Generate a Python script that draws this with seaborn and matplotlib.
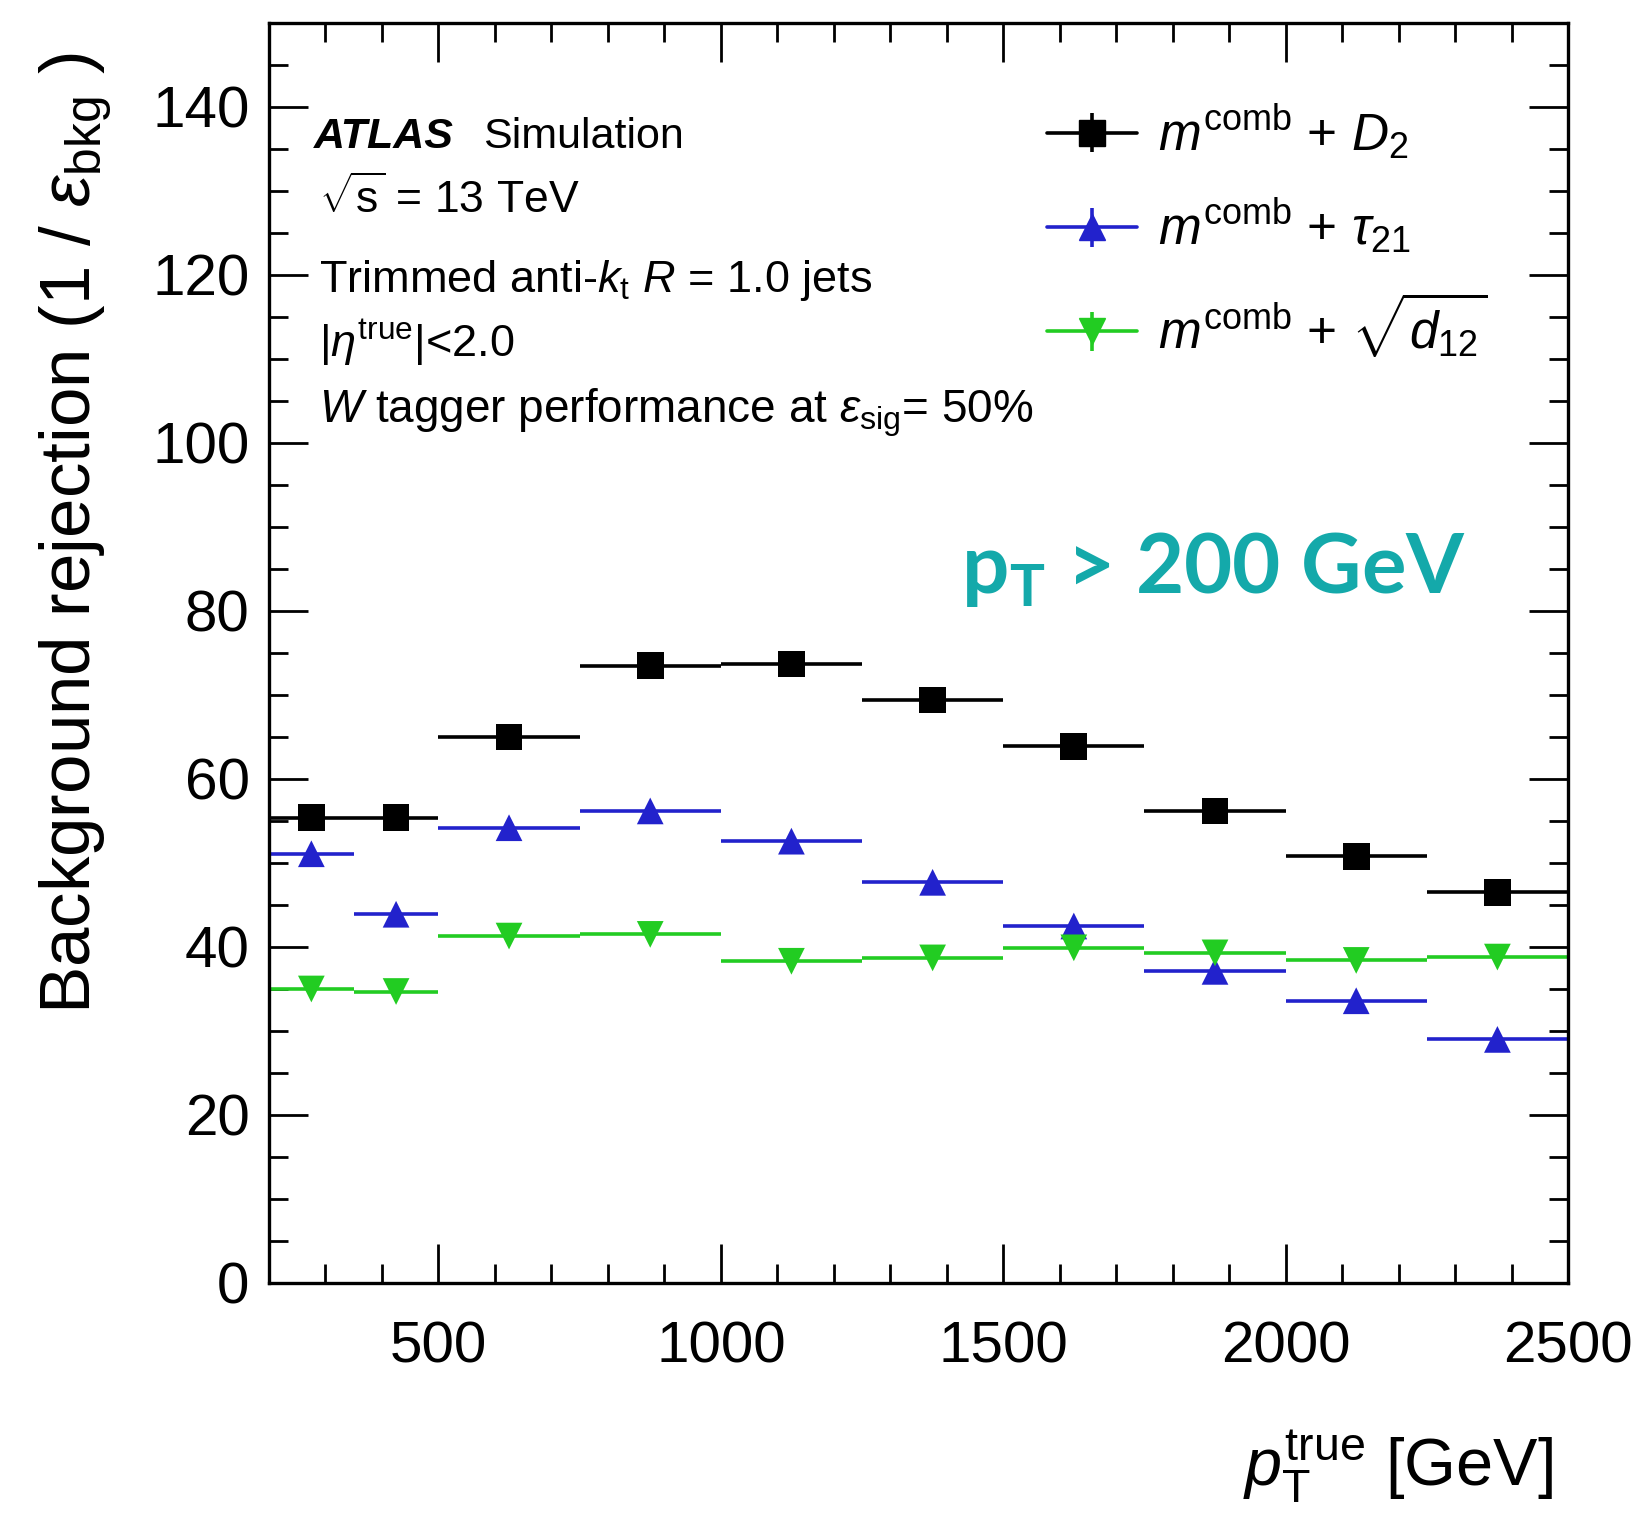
import numpy as np
import pandas as pd
import matplotlib
matplotlib.use("Agg")
import matplotlib.pyplot as plt
import seaborn as sns
from matplotlib.ticker import MultipleLocator
from matplotlib.legend_handler import HandlerErrorbar

# ---------------- data ----------------
bin_edges = [200, 350, 500, 750, 1000, 1250, 1500, 1750, 2000, 2250, 2500]
rej_D2 = [55.4, 55.4, 65.0, 73.5, 73.7, 69.4, 63.9, 56.2, 50.8, 46.5]
rej_tau21 = [51.1, 43.9, 54.2, 56.2, 52.6, 47.7, 42.5, 37.1, 33.6, 29.0]
rej_d12 = [35.0, 34.7, 41.3, 41.5, 38.3, 38.7, 39.9, 39.3, 38.4, 38.8]
series_names = ["D2", "tau21", "d12"]
series_labels = [r"$m^{\rm comb}$ + $D_2$",
                 r"$m^{\rm comb}$ + $\tau_{21}$",
                 r"$m^{\rm comb}$ + $\sqrt{d_{12}}$"]
x_ticks = [500, 1000, 1500, 2000, 2500]
y_ticks = [0, 20, 40, 60, 80, 100, 120, 140]

colors = {"D2": "#000000", "tau21": "#2222cc", "d12": "#22cc22"}
markers = {"D2": "s", "tau21": "^", "d12": "v"}

edges = np.array(bin_edges, dtype=float)
centers = 0.5 * (edges[:-1] + edges[1:])
halfw = 0.5 * (edges[1:] - edges[:-1])
vals = {"D2": rej_D2, "tau21": rej_tau21, "d12": rej_d12}
df = pd.concat([pd.DataFrame({"pt": centers, "rej": vals[n], "tagger": n}) for n in series_names],
               ignore_index=True)

# ---------------- style ----------------
sns.set_theme(style="ticks")
plt.rcParams["font.family"] = ["Liberation Sans", "DejaVu Sans"]
plt.rcParams["mathtext.fontset"] = "custom"
plt.rcParams["mathtext.rm"] = "Liberation Sans"
plt.rcParams["mathtext.it"] = "Liberation Sans:italic"
plt.rcParams["mathtext.bf"] = "Lato:bold"
plt.rcParams["text.color"] = "black"
plt.rcParams["axes.labelcolor"] = "black"
plt.rcParams["xtick.color"] = "black"
plt.rcParams["ytick.color"] = "black"

fig = plt.figure(figsize=(16.34, 15.16), dpi=100)
ax = fig.add_axes([269 / 1634, 1 - 1283 / 1516, 1299 / 1634, 1260 / 1516])

# horizontal bin-width bars
for n in ["d12", "tau21", "D2"]:
    ax.errorbar(centers, vals[n], xerr=halfw, fmt="none", ecolor=colors[n],
                elinewidth=2.6, zorder=2)

# markers via seaborn
sns.scatterplot(data=df, x="pt", y="rej", hue="tagger", style="tagger",
                palette=colors, markers=markers, hue_order=["d12", "tau21", "D2"],
                style_order=["d12", "tau21", "D2"],
                s=370, linewidth=0, legend=False, ax=ax, zorder=3)

# legend handles
handles = []
for n in series_names:
    h = ax.errorbar([np.nan], [np.nan], xerr=[1], yerr=[1], fmt=markers[n] + "-",
                    color=colors[n], ms=19, lw=2.6, elinewidth=2.6)
    handles.append(h)
leg = ax.legend(handles, series_labels, loc="upper left", bbox_to_anchor=(0.599, 0.937),
                frameon=False, fontsize=37, handlelength=1.75, handletextpad=0.4,
                labelspacing=0.68, borderpad=0, borderaxespad=0, numpoints=1,
                handler_map={type(handles[0]): HandlerErrorbar(xerr_size=0.0, yerr_size=0.38)})

ax.set_xlim(200, 2500)
ax.set_ylim(0, 150)
ax.set_xticks(x_ticks)
ax.set_yticks(y_ticks)
ax.xaxis.set_minor_locator(MultipleLocator(100))
ax.yaxis.set_minor_locator(MultipleLocator(5))
ax.tick_params(which="both", direction="in", top=True, right=True, width=2, color="black")
ax.tick_params(which="major", length=28)
ax.tick_params(which="minor", length=14)
ax.tick_params(axis="x", which="major", labelsize=42, pad=27)
ax.tick_params(axis="y", which="major", labelsize=42, pad=14)
for s in ax.spines.values():
    s.set_linewidth(2.4)
    s.set_color("black")

ax.set_xlabel(r"$p_{\rm T}^{\rm true}$ [GeV]", fontsize=48, loc="right")
ax.xaxis.set_label_coords(0.988, -0.146)
ax.xaxis.label.set_va("center")
ax.set_ylabel(r"Background rejection (1 / $\epsilon_{\rm bkg}$ )", fontsize=51, loc="top")
ax.yaxis.set_label_coords(-0.149, 0.977)
ax.yaxis.label.set_va("center")

# annotation text
ax.text(0.0346, 0.901, "ATLAS", transform=ax.transAxes, fontsize=31,
        fontweight="bold", fontstyle="italic", va="baseline")
ax.text(0.165, 0.901, "Simulation", transform=ax.transAxes, fontsize=31, va="baseline")
ax.text(0.0385, 0.849, r"$\sqrt{\rm s}$ = 13 TeV", transform=ax.transAxes, fontsize=32, va="baseline")
ax.text(0.0385, 0.7865, r"Trimmed anti-$k_{\rm t}$ $R$ = 1.0 jets", transform=ax.transAxes,
        fontsize=32.5, va="baseline")
ax.text(0.0385, 0.735, r"|$\eta^{\rm true}$|<2.0", transform=ax.transAxes, fontsize=32.5, va="baseline")
ax.text(0.0385, 0.683, r"$W$ tagger performance at $\epsilon_{\rm sig}$= 50%", transform=ax.transAxes,
        fontsize=33, va="baseline")

ax.text(0.533, 0.566, r"p$_{\mathbf{T}}$ > 200 GeV", transform=ax.transAxes, fontsize=60,
        fontweight="bold", color="#14a9aa", family=["Lato", "DejaVu Sans"], va="center")

fig.savefig("out.png", dpi=100)
